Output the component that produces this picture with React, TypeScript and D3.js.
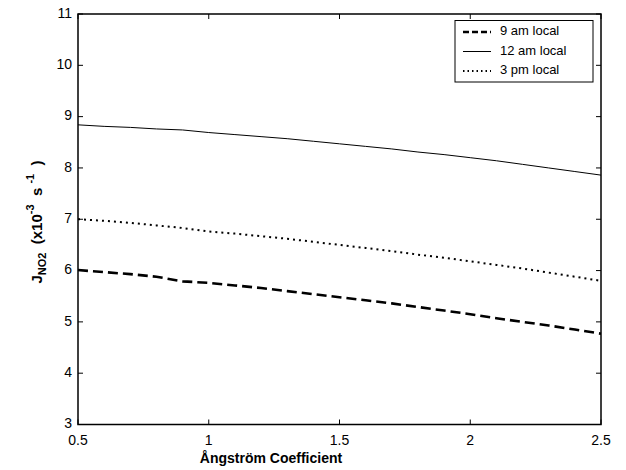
import React from "react";
import * as d3 from "d3";

const angstrom = [0.5, 0.6, 0.7, 0.8, 0.9, 1.0, 1.1, 1.2, 1.3, 1.4, 1.5, 1.6, 1.7, 1.8, 1.9, 2.0, 2.1, 2.2, 2.3, 2.4, 2.5];
const am9 = [6.01, 5.97, 5.93, 5.88, 5.79, 5.76, 5.71, 5.66, 5.6, 5.54, 5.48, 5.42, 5.36, 5.29, 5.22, 5.15, 5.07, 5.0, 4.93, 4.85, 4.77];
const am12 = [8.84, 8.81, 8.79, 8.76, 8.74, 8.69, 8.65, 8.61, 8.57, 8.52, 8.47, 8.42, 8.37, 8.31, 8.26, 8.2, 8.14, 8.07, 8.0, 7.93, 7.86];
const pm3 = [7.0, 6.97, 6.93, 6.88, 6.83, 6.76, 6.72, 6.67, 6.62, 6.56, 6.5, 6.44, 6.38, 6.31, 6.25, 6.18, 6.11, 6.04, 5.96, 5.88, 5.8];
const seriesNames = ["9 am local", "12 am local", "3 pm local"];
const xTicks = [0.5, 1, 1.5, 2, 2.5];
const yTicks = [3, 4, 5, 6, 7, 8, 9, 10, 11];

const W = 626, H = 470;
const L = 78, R = 601, T = 14, B = 424.5;
const FONT = "'Liberation Sans', Arial, Helvetica, sans-serif";

export default function App() {
  const x = d3.scaleLinear().domain([0.5, 2.5]).range([L, R]);
  const y = d3.scaleLinear().domain([3, 11]).range([B, T]);
  const line = (vals: number[]) =>
    d3.line<number>().x((_, i) => x(angstrom[i])).y((d) => y(d))(vals) || "";

  const styles = [
    { data: am9, width: 2.6, dash: "10,5" },
    { data: am12, width: 1, dash: "none" },
    { data: pm3, width: 2, dash: "2,4" },
  ];
  const tl = 5;

  return (
    <svg width={W} height={H} style={{ position: "absolute", left: 0, top: 0, background: "#fff" }} fontFamily={FONT}>
      <rect x={0} y={0} width={W} height={H} fill="#fff" />
      {styles.map((s, i) => (
        <path key={i} d={line(s.data)} fill="none" stroke="#000" strokeWidth={s.width} strokeDasharray={s.dash} />
      ))}
      {/* box */}
      <rect x={L} y={T} width={R - L} height={B - T} fill="none" stroke="#000" strokeWidth={1.5} />
      {/* x ticks */}
      {xTicks.map((t) => (
        <g key={"x" + t}>
          <line x1={x(t)} x2={x(t)} y1={B} y2={B - tl} stroke="#000" strokeWidth={1} />
          <line x1={x(t)} x2={x(t)} y1={T} y2={T + tl} stroke="#000" strokeWidth={1} />
          <text x={x(t)} y={441} fontSize={14} textAnchor="middle" dominantBaseline="middle">{t}</text>
        </g>
      ))}
      {yTicks.map((t) => (
        <g key={"y" + t}>
          <line x1={L} x2={L + tl} y1={y(t)} y2={y(t)} stroke="#000" strokeWidth={1} />
          <line x1={R} x2={R - tl} y1={y(t)} y2={y(t)} stroke="#000" strokeWidth={1} />
          <text x={72} y={y(t)} fontSize={14} textAnchor="end" dominantBaseline="middle">{t}</text>
        </g>
      ))}
      {/* x label */}
      <text x={271} y={463} fontSize={14} fontWeight="bold" textAnchor="middle">Ångström Coefficient</text>
      {/* y label */}
      <text transform={`translate(42,222) rotate(-90)`} fontSize={15} fontWeight="bold" textAnchor="middle">
        <tspan>J</tspan>
        <tspan fontSize={11} dy={4}>NO2</tspan>
        <tspan dy={-4}>{"\u00a0\u00a0(x10"}</tspan>
        <tspan fontSize={11} dy={-8}>-3</tspan>
        <tspan dy={8}>{"\u00a0\u00a0s\u00a0"}</tspan>
        <tspan fontSize={11} dy={-8}>-1</tspan>
        <tspan dy={8}>{"\u00a0\u00a0)"}</tspan>
      </text>
      {/* legend */}
      <rect x={455} y={20.5} width={138} height={61.5} fill="#fff" stroke="#000" strokeWidth={1} />
      {styles.map((s, i) => (
        <g key={"lg" + i}>
          <line x1={463} x2={491} y1={32 + i * 19.5} y2={32 + i * 19.5} stroke="#000" strokeWidth={s.width} strokeDasharray={s.dash === "10,5" ? "6,3" : s.dash === "2,4" ? "1.5,3" : "none"} />
          <text x={500} y={32 + i * 19.5} fontSize={13} dominantBaseline="middle">{seriesNames[i]}</text>
        </g>
      ))}
    </svg>
  );
}
